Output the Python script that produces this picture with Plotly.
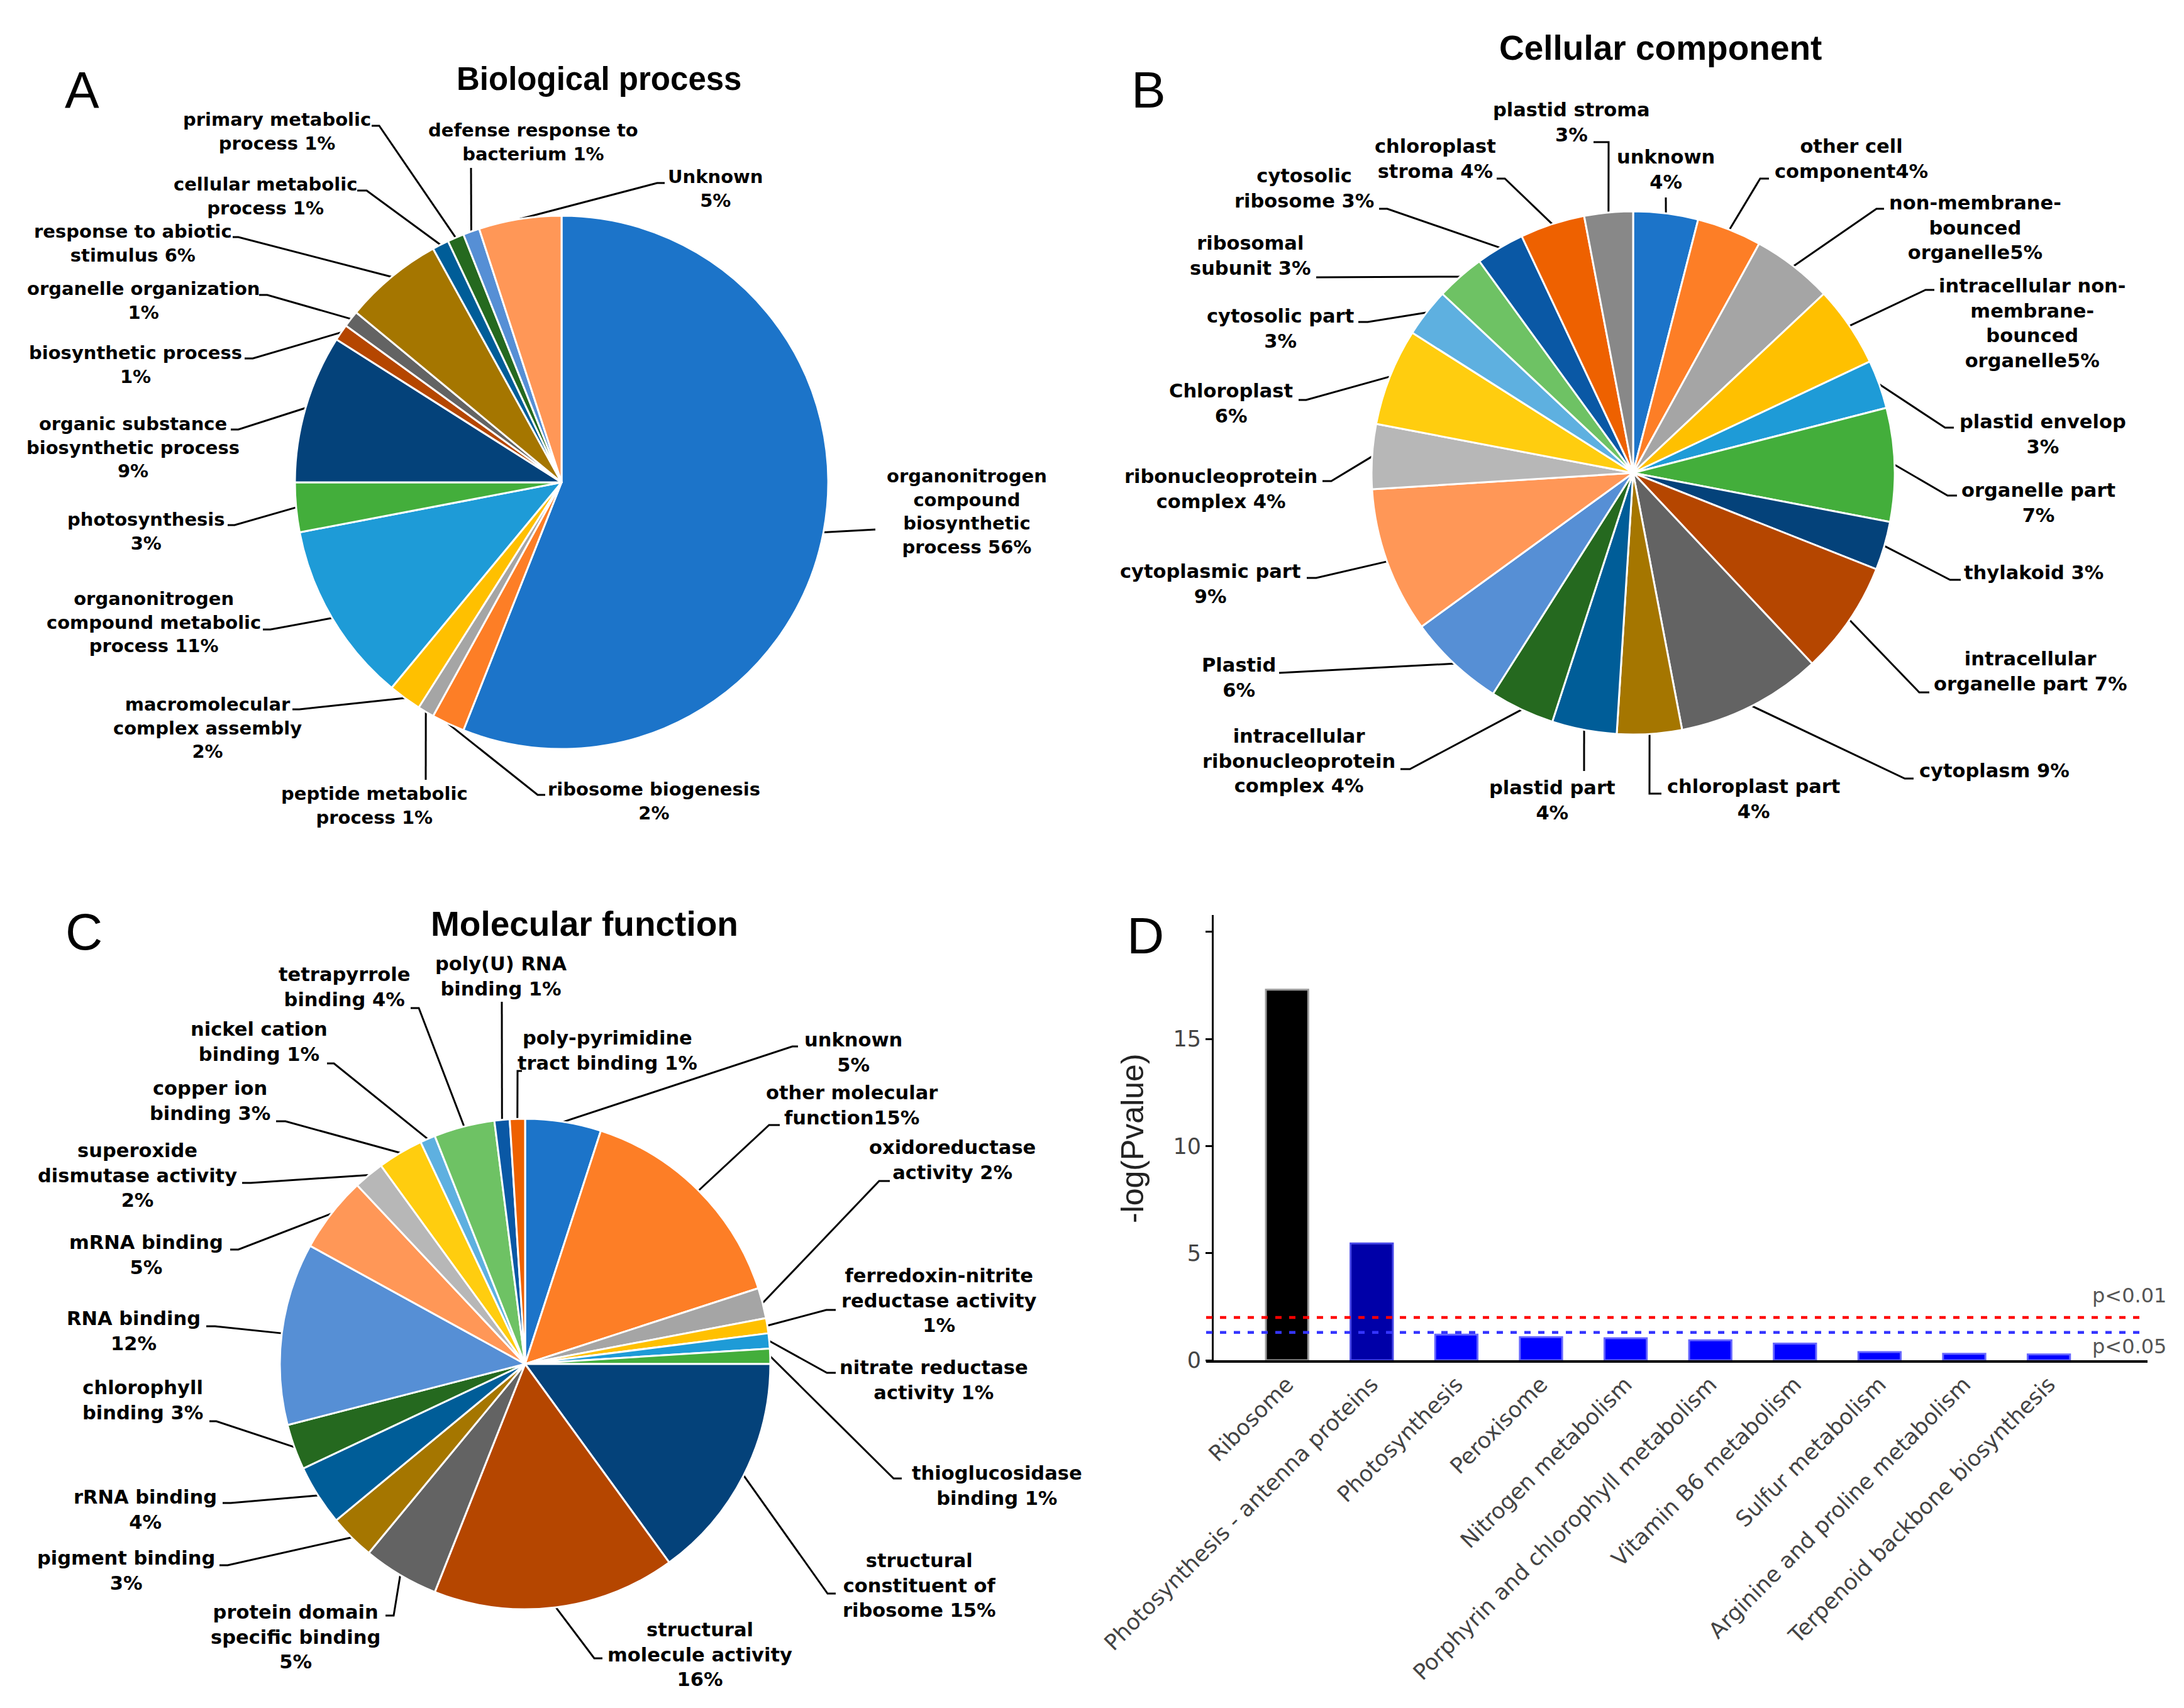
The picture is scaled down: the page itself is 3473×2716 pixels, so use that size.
import math
import plotly.graph_objects as go

W, H = 3473, 2716
OX, OY = 8, 8  # page offset of the figure (body margin)

# ---------------- DATA ----------------
# A: Biological process (clockwise from 12 o'clock)
bp_names = ["organonitrogen compound biosynthetic process", "ribosome biogenesis",
            "peptide metabolic process", "macromolecular complex assembly",
            "organonitrogen compound metabolic process", "photosynthesis",
            "organic substance biosynthetic process", "biosynthetic process",
            "organelle organization", "response to abiotic stimulus",
            "cellular metabolic process", "primary metabolic process",
            "defense response to bacterium", "Unknown"]
bp_values = [56, 2, 1, 2, 11, 3, 9, 1, 1, 6, 1, 1, 1, 5]
bp_text = ["organonitrogen<br>compound<br>biosynthetic<br>process 56%", "ribosome biogenesis<br>2%",
           "peptide metabolic<br>process 1%", "macromolecular<br>complex assembly<br>2%",
           "organonitrogen<br>compound metabolic<br>process 11%", "photosynthesis<br>3%",
           "organic substance<br>biosynthetic process<br>9%", "biosynthetic process<br>1%",
           "organelle organization<br>1%", "response to abiotic<br>stimulus 6%",
           "cellular metabolic<br>process 1%", "primary metabolic<br>process 1%",
           "defense response to<br>bacterium 1%", "Unknown<br>5%"]

# B: Cellular component
cc_names = ["unknown", "other cell component", "non-membrane-bounced organelle",
            "intracellular non-membrane-bounced organelle", "plastid envelop", "organelle part",
            "thylakoid", "intracellular organelle part", "cytoplasm", "chloroplast part",
            "plastid part", "intracellular ribonucleoprotein complex", "Plastid",
            "cytoplasmic part", "ribonucleoprotein complex", "Chloroplast", "cytosolic part",
            "ribosomal subunit", "cytosolic ribosome", "chloroplast stroma", "plastid stroma"]
cc_values = [4, 4, 5, 5, 3, 7, 3, 7, 9, 4, 4, 4, 6, 9, 4, 6, 3, 3, 3, 4, 3]
cc_text = ["unknown<br>4%", "other cell<br>component4%", "non-membrane-<br>bounced<br>organelle5%",
           "intracellular non-<br>membrane-<br>bounced<br>organelle5%", "plastid envelop<br>3%",
           "organelle part<br>7%", "thylakoid 3%", "intracellular<br>organelle part 7%",
           "cytoplasm 9%", "chloroplast part<br>4%", "plastid part<br>4%",
           "intracellular<br>ribonucleoprotein<br>complex 4%", "Plastid<br>6%",
           "cytoplasmic part<br>9%", "ribonucleoprotein<br>complex 4%", "Chloroplast<br>6%",
           "cytosolic part<br>3%", "ribosomal<br>subunit 3%", "cytosolic<br>ribosome 3%",
           "chloroplast<br>stroma 4%", "plastid stroma<br>3%"]

# C: Molecular function
mf_names = ["unknown", "other molecular function", "oxidoreductase activity",
            "ferredoxin-nitrite reductase activity", "nitrate reductase activity",
            "thioglucosidase binding", "structural constituent of ribosome",
            "structural molecule activity", "protein domain specific binding", "pigment binding",
            "rRNA binding", "chlorophyll binding", "RNA binding", "mRNA binding",
            "superoxide dismutase activity", "copper ion binding", "nickel cation binding",
            "tetrapyrrole binding", "poly(U) RNA binding", "poly-pyrimidine tract binding"]
mf_values = [5, 15, 2, 1, 1, 1, 15, 16, 5, 3, 4, 3, 12, 5, 2, 3, 1, 4, 1, 1]
mf_text = ["unknown<br>5%", "other molecular<br>function15%", "oxidoreductase<br>activity 2%",
           "ferredoxin-nitrite<br>reductase activity<br>1%", "nitrate reductase<br>activity 1%",
           "thioglucosidase<br>binding 1%", "structural<br>constituent of<br>ribosome 15%",
           "structural<br>molecule activity<br>16%", "protein domain<br>specific binding<br>5%",
           "pigment binding<br>3%", "rRNA binding<br>4%", "chlorophyll<br>binding 3%",
           "RNA binding<br>12%", "mRNA binding<br>5%", "superoxide<br>dismutase activity<br>2%",
           "copper ion<br>binding 3%", "nickel cation<br>binding 1%", "tetrapyrrole<br>binding 4%",
           "poly(U) RNA<br>binding 1%", "poly-pyrimidine<br>tract binding 1%"]

# D: KEGG enrichment
kegg_terms = ["Ribosome", "Photosynthesis - antenna proteins", "Photosynthesis", "Peroxisome",
              "Nitrogen metabolism", "Porphyrin and chlorophyll metabolism",
              "Vitamin B6 metabolism", "Sulfur metabolism", "Arginine and proline metabolism",
              "Terpenoid backbone biosynthesis"]
kegg_values = [17.3, 5.45, 1.2, 1.08, 1.03, 0.93, 0.78, 0.38, 0.30, 0.27]
p_thresholds = [0.01, 0.05]
y_ticks = [0, 5, 10, 15, 20]
y_ticktext = ["0", "5", "10", "15", ""]

# ---------------- STYLE / LAYOUT ----------------
palette = ["#1C74C9", "#FD7E26", "#A5A5A5", "#FFC000", "#1E9BD7", "#43AE3B", "#04427A",
           "#B54600", "#636363", "#A57600", "#005D98", "#25691F", "#568FD5", "#FF9757",
           "#B7B7B7", "#FFCD0F", "#5EB0E0", "#6EC264", "#0A58A5", "#EE6100", "#888888"]
bar_colors = ["#000000", "#0000A8"] + ["#0000FF"] * 8
bar_edges = ["#9A9A9A", "#4848E8"] + ["#6666FF"] * 8

# pie geometry in page pixels: centre x, centre y, radius
pie_geo = {"A": (893, 767, 424), "B": (2597, 752, 416), "C": (835, 2169, 390)}

# label centres, leader elbows and attach x (page pixels)
bp_pos = [(1537, 813), (1040, 1274), (595, 1281), (330, 1157), (244, 989), (232, 845),
          (211, 711), (215, 580), (228, 478), (211, 387), (422, 312), (440, 209),
          (848, 226), (1138, 300)]
bp_elb = [(1392, 842, 1392), (855, 1264, 867), (677, 1240, 677), (476, 1128, 465),
          (430, 1001, 418), (373, 835, 362), (379, 683, 367), (402, 570, 389),
          (425, 469, 412), (379, 377, 370), (583, 303, 568), (603, 200, 591),
          (749, 267, 749), (1045, 291, 1057)]
cc_pos = [(2649, 269), (2944, 252), (3141, 362), (3232, 514), (3248, 690), (3241, 799),
          (3234, 910), (3228, 1067), (3171, 1225), (2788, 1270), (2468, 1272), (2065, 1210),
          (1970, 1077), (1925, 928), (1941, 777), (1957, 641), (2036, 522), (1988, 406),
          (2074, 299), (2282, 252), (2499, 194)]
cc_elb = [(2649, 314, 2649), (2799, 284, 2813), (2984, 332, 2996), (3062, 461, 3076),
          (3093, 680, 3107), (3097, 788, 3112), (3101, 922, 3118), (3052, 1101, 3068),
          (3029, 1238, 3043), (2623, 1262, 2642), (2519, 1226, 2519), (2242, 1223, 2227),
          (2046, 1070, 2034), (2093, 919, 2078), (2117, 765, 2103), (2077, 636, 2065),
          (2175, 512, 2160), (2110, 441, 2093), (2206, 332, 2193), (2393, 284, 2380),
          (2558, 226, 2534)]
mf_pos = [(1357, 1673), (1354, 1757), (1514, 1844), (1493, 2068), (1485, 2194), (1585, 2362),
          (1461, 2521), (1113, 2631), (470, 2603), (200, 2497), (231, 2400), (227, 2226),
          (212, 2116), (232, 1995), (218, 1869), (334, 1750), (412, 1656), (547, 1569),
          (796, 1552), (966, 1670)]
mf_elb = [(1260, 1664, 1269), (1223, 1789, 1240), (1398, 1878, 1415), (1314, 2083, 1329),
          (1315, 2183, 1329), (1421, 2351, 1434), (1316, 2534, 1329), (945, 2637, 958),
          (626, 2569, 613), (362, 2489, 349), (367, 2390, 354), (344, 2260, 333),
          (342, 2109, 328), (379, 1987, 366), (399, 1881, 385), (454, 1783, 439),
          (531, 1691, 520), (666, 1603, 653), (798, 1593, 798), (823, 1703, 830)]

# bar panel frame (page pixels)
D_left, D_right, D_yaxis, D_bottom, D_top = 1918, 3415, 1928, 2163, 1455
D_x0, D_dx = 2046.7, 134.6          # first category centre, category spacing
D_unit = 34.06                      # pixels per y unit

LABEL_FONT = "DejaVu Sans"
TITLE_FONT = "Liberation Sans"


def domain_of(cx, cy, r):
    return dict(x=[(cx - r - OX) / W, (cx + r - OX) / W],
                y=[1 - (cy + r - OY) / H, 1 - (cy - r - OY) / H])


def leader_xy(values, geo, elbows):
    cx, cy, r = geo
    total = float(sum(values))
    xs, ys, cum = [], [], 0.0
    for v, (ex, ey, ax) in zip(values, elbows):
        th = 2 * math.pi * (cum + v / 2.0) / total
        cum += v
        xs += [cx + r * math.sin(th), ex, ax, None]
        ys += [cy - r * math.cos(th), ey, ey, None]
    return xs, ys


fig = go.Figure()

annotations = []
for key, names, values, texts, pos, elb, fsize in [
        ("A", bp_names, bp_values, bp_text, bp_pos, bp_elb, 29),
        ("B", cc_names, cc_values, cc_text, cc_pos, cc_elb, 30.5),
        ("C", mf_names, mf_values, mf_text, mf_pos, mf_elb, 30.5)]:
    geo = pie_geo[key]
    lx, ly = leader_xy(values, geo, elb)
    fig.add_trace(go.Scatter(x=lx, y=ly, mode="lines", xaxis="x2", yaxis="y2",
                             line=dict(color="black", width=3), hoverinfo="skip",
                             showlegend=False))
    fig.add_trace(go.Pie(labels=names, values=values, sort=False, direction="clockwise",
                         rotation=0, textinfo="none", showlegend=False, automargin=False,
                         marker=dict(colors=palette[:len(values)],
                                     line=dict(color="white", width=3)),
                         domain=domain_of(*geo)))
    for t, (tx, ty) in zip(texts, pos):
        annotations.append(dict(x=tx, y=ty, xref="x2", yref="y2", text=t, showarrow=False,
                                align="center", xanchor="center", yanchor="middle",
                                font=dict(family=LABEL_FONT, size=fsize, color="black",
                                          weight="bold")))

# Bar chart (panel D)
fig.add_trace(go.Bar(x=kegg_terms, y=kegg_values, width=0.5, xaxis="x", yaxis="y",
                     marker=dict(color=bar_colors, line=dict(color=bar_edges, width=3)),
                     showlegend=False))

shapes = []
x_end = (3404 - D_left) / (D_right - D_left)
for p, col in zip(p_thresholds, ["#FF0000", "#3535FF"]):
    lv = -math.log10(p)
    shapes.append(dict(type="line", xref="x domain", yref="y", x0=0, x1=x_end, y0=lv, y1=lv,
                       line=dict(color=col, width=4.5, dash="10px,12px"), layer="above"))

# titles and panel letters
for txt, x, y, s in [("Biological process", 952, 125, 51), ("Cellular component", 2640, 76, 55),
                     ("Molecular function", 929, 1469, 55)]:
    annotations.append(dict(x=x, y=y, xref="x2", yref="y2", text=txt, showarrow=False,
                            xanchor="center", yanchor="middle",
                            font=dict(family=TITLE_FONT, size=s, color="black", weight="bold")))
for txt, x, y in [("A", 130, 142), ("B", 1826, 142), ("C", 133, 1481), ("D", 1821, 1487)]:
    annotations.append(dict(x=x, y=y, xref="x2", yref="y2", text=txt, showarrow=False,
                            xanchor="center", yanchor="middle",
                            font=dict(family=TITLE_FONT, size=82, color="black")))
annotations.append(dict(x=1801, y=1810, xref="x2", yref="y2", text="-log(Pvalue)",
                        textangle=-90, showarrow=False, xanchor="center", yanchor="middle",
                        font=dict(family=TITLE_FONT, size=50, color="#222222")))
for txt, y in [("p&lt;0.01", 2060), ("p&lt;0.05", 2141)]:
    annotations.append(dict(x=3386, y=y, xref="x2", yref="y2", text=txt, showarrow=False,
                            xanchor="center", yanchor="middle",
                            font=dict(family="DejaVu Sans", size=32, color="#555555")))

fig.update_layout(
    width=W, height=H, margin=dict(l=0, r=0, t=0, b=0, pad=0, autoexpand=False),
    paper_bgcolor="white", plot_bgcolor="rgba(0,0,0,0)",
    xaxis=dict(domain=[(D_left - OX) / W, (D_right - OX) / W],
               range=[(D_left - D_x0) / D_dx, (D_right - D_x0) / D_dx], anchor="y",
               showline=True, linecolor="black", linewidth=4, ticks="", tickangle=-45,
               tickfont=dict(family="DejaVu Sans", size=35, color="#444444"),
               showgrid=False, zeroline=False, fixedrange=True, automargin=False),
    yaxis=dict(domain=[1 - (D_bottom - OY) / H, 1 - (D_top - OY) / H],
               range=[0, (D_bottom - D_top) / D_unit], anchor="free",
               position=(D_yaxis - OX) / W,
               showline=True, linecolor="black", linewidth=3, ticks="outside", ticklen=10,
               tickwidth=3, tickcolor="black", tickvals=y_ticks, ticktext=y_ticktext,
               tickfont=dict(family="DejaVu Sans", size=35, color="#444444"),
               showgrid=False, zeroline=False, fixedrange=True, automargin=False),
    xaxis2=dict(domain=[0, 1], range=[OX, W + OX], anchor="y2", visible=False, fixedrange=True),
    yaxis2=dict(domain=[0, 1], range=[H + OY, OY], anchor="x2", visible=False, fixedrange=True),
    annotations=annotations, shapes=shapes,
)

fig.write_html("out.html")
